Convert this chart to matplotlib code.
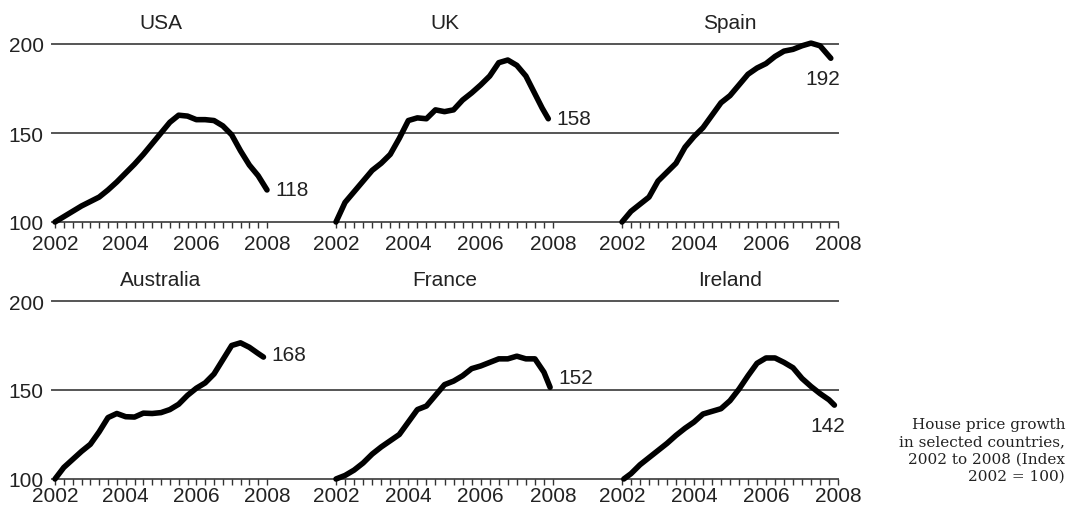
import matplotlib.pyplot as plt

# Данные: квартальные индексы цен на жильё (2002 = 100)
usa_x = [2002.0, 2002.25, 2002.5, 2002.75, 2003.0, 2003.25, 2003.5, 2003.75, 2004.0, 2004.25, 2004.5, 2004.75,
         2005.0, 2005.25, 2005.5, 2005.75, 2006.0, 2006.25, 2006.5, 2006.75, 2007.0, 2007.25, 2007.5, 2007.75, 2008.0]
usa_y = [100, 103, 106, 109, 111.5, 114, 118, 122.5, 127.5, 132.5, 138, 144,
         150, 156, 160, 159.5, 157.5, 157.5, 157, 154, 149, 140, 132, 126, 118]

uk_x = [2002.0, 2002.25, 2002.5, 2002.75, 2003.0, 2003.25, 2003.5, 2003.75, 2004.0, 2004.25, 2004.5, 2004.75,
        2005.0, 2005.25, 2005.5, 2005.75, 2006.0, 2006.25, 2006.5, 2006.75, 2007.0, 2007.25, 2007.5, 2007.7, 2007.87]
uk_y = [100, 111, 117, 123, 129, 133, 138, 147, 157, 158.5, 158, 163,
        162, 163, 168.5, 172.5, 177, 182, 189.5, 191, 188, 182, 172, 164, 158]

spain_x = [2002.0, 2002.25, 2002.5, 2002.75, 2003.0, 2003.25, 2003.5, 2003.75, 2004.0, 2004.25, 2004.5, 2004.75,
           2005.0, 2005.25, 2005.5, 2005.75, 2006.0, 2006.25, 2006.5, 2006.75, 2007.0, 2007.25, 2007.5, 2007.8]
spain_y = [100, 106, 110, 114, 123, 128, 133, 142, 148, 153, 160, 167,
           171, 177, 183, 186.5, 189, 193, 196, 197, 199, 200.5, 199, 192]

aus_x = [2002.0, 2002.25, 2002.5, 2002.75, 2003.0, 2003.25, 2003.5, 2003.75, 2004.0, 2004.25, 2004.5, 2004.75,
         2005.0, 2005.25, 2005.5, 2005.75, 2006.0, 2006.25, 2006.5, 2006.75, 2007.0, 2007.25, 2007.5, 2007.75, 2007.9]
aus_y = [100, 106.5, 111, 115.5, 119.5, 126.5, 134.5, 136.8, 135, 134.8, 137, 136.8,
         137.3, 139, 142, 147, 151, 154, 159, 167, 175, 176.5, 174, 170.5, 168.5]

france_x = [2002.0, 2002.25, 2002.5, 2002.75, 2003.0, 2003.25, 2003.5, 2003.75, 2004.0, 2004.25, 2004.5, 2004.75,
            2005.0, 2005.25, 2005.5, 2005.75, 2006.0, 2006.25, 2006.5, 2006.75, 2007.0, 2007.25, 2007.5, 2007.75, 2007.92]
france_y = [100, 102, 105, 109, 114, 118, 121.5, 125, 132, 139, 141, 147,
            153, 155, 158, 162, 163.5, 165.5, 167.5, 167.5, 169, 167.5, 167.5, 160, 151.5]

ireland_x = [2002.05, 2002.25, 2002.5, 2002.75, 2003.0, 2003.25, 2003.5, 2003.75, 2004.0, 2004.25, 2004.5, 2004.75,
             2005.0, 2005.25, 2005.5, 2005.75, 2006.0, 2006.25, 2006.5, 2006.75, 2007.0, 2007.25, 2007.5, 2007.75, 2007.9]
ireland_y = [100, 103, 108, 112, 116, 120, 124.5, 128.5, 132, 136.5, 138, 139.5,
             144, 150.5, 158, 165, 168, 168, 165.5, 162.5, 156.5, 152, 148, 144.5, 141.5]

countries = ['USA', 'UK', 'Spain', 'Australia', 'France', 'Ireland']
xs = [usa_x, uk_x, spain_x, aus_x, france_x, ireland_x]
ys = [usa_y, uk_y, spain_y, aus_y, france_y, ireland_y]
end_labels = ['118', '158', '192', '168', '152', '142']
# смещение подписи конца линии (в точках) и выравнивание
label_pos = [((6, 0), 'left', 'center'), ((6, 0), 'left', 'center'), ((-6, -8), 'center', 'top'),
             ((6, 2), 'left', 'center'), ((6, 7), 'left', 'center'), ((-5, -8), 'center', 'top')]

year_ticks = [2002, 2004, 2006, 2008]
quarter_ticks = [2002 + q / 4 for q in range(25)]

plt.rcParams['font.family'] = ['Liberation Sans', 'DejaVu Sans']
fs = 15

W, H = 1069, 510
fig = plt.figure(figsize=(W / 100, H / 100), dpi=100)

def box(x0, x1, y_top, y_bottom):
    return [x0 / W, 1 - y_bottom / H, (x1 - x0) / W, (y_bottom - y_top) / H]

rows = [(45, 223), (302, 480)]
tick_pad = [5, 1]
cols = [(55, 267), (336, 553), (622, 838)]

for r, (y_top, y_bottom) in enumerate(rows):
    # общая "рамка" строки с горизонтальными линиями
    bg = fig.add_axes(box(52, 838, y_top, y_bottom))
    bg.set_xlim(0, 1)
    bg.set_ylim(100, 200)
    for v in [100, 150, 200]:
        bg.axhline(v, color='#555555', lw=1.4, clip_on=False)
    bg.set_yticks([100, 150, 200])
    bg.tick_params(axis='y', length=0, pad=6, labelsize=fs, labelcolor='#222222')
    bg.set_xticks([])
    for s in bg.spines.values():
        s.set_visible(False)
    bg.patch.set_visible(False)

    for c, (x0, x1) in enumerate(cols):
        i = r * 3 + c
        ax = fig.add_axes(box(x0, x1, y_top, y_bottom))
        ax.patch.set_visible(False)
        ax.set_xlim(2002, 2008)
        ax.set_ylim(100, 200)
        for s in ax.spines.values():
            s.set_visible(False)
        ax.set_yticks([])
        ax.set_xticks(quarter_ticks, minor=True)
        ax.set_xticks(year_ticks)
        ax.set_xticklabels([str(y) for y in year_ticks])
        ax.tick_params(axis='x', which='both', direction='out', length=4, width=1, color='#333333')
        ax.tick_params(axis='x', which='major', pad=tick_pad[r], labelsize=fs, labelcolor='#222222')
        ax.plot(xs[i], ys[i], color='black', lw=4, solid_capstyle='round',
                solid_joinstyle='round', clip_on=False)
        off, ha, va = label_pos[i]
        ax.annotate(end_labels[i], (xs[i][-1], ys[i][-1]), xytext=off, textcoords='offset points',
                    ha=ha, va=va, fontsize=fs, color='#222222')
        ax.text(0.5, 1.0 + 12 / (y_bottom - y_top), countries[i], transform=ax.transAxes,
                ha='center', va='bottom', fontsize=fs, color='#222222')

fig.text(1065 / W, 1 - 451 / H, 'House price growth\nin selected countries,\n2002 to 2008 (Index\n2002 = 100)',
         ha='right', va='center', multialignment='right', family='DejaVu Serif', fontsize=11,
         linespacing=1.3, color='#222222')

plt.savefig('out.png', dpi=100)
